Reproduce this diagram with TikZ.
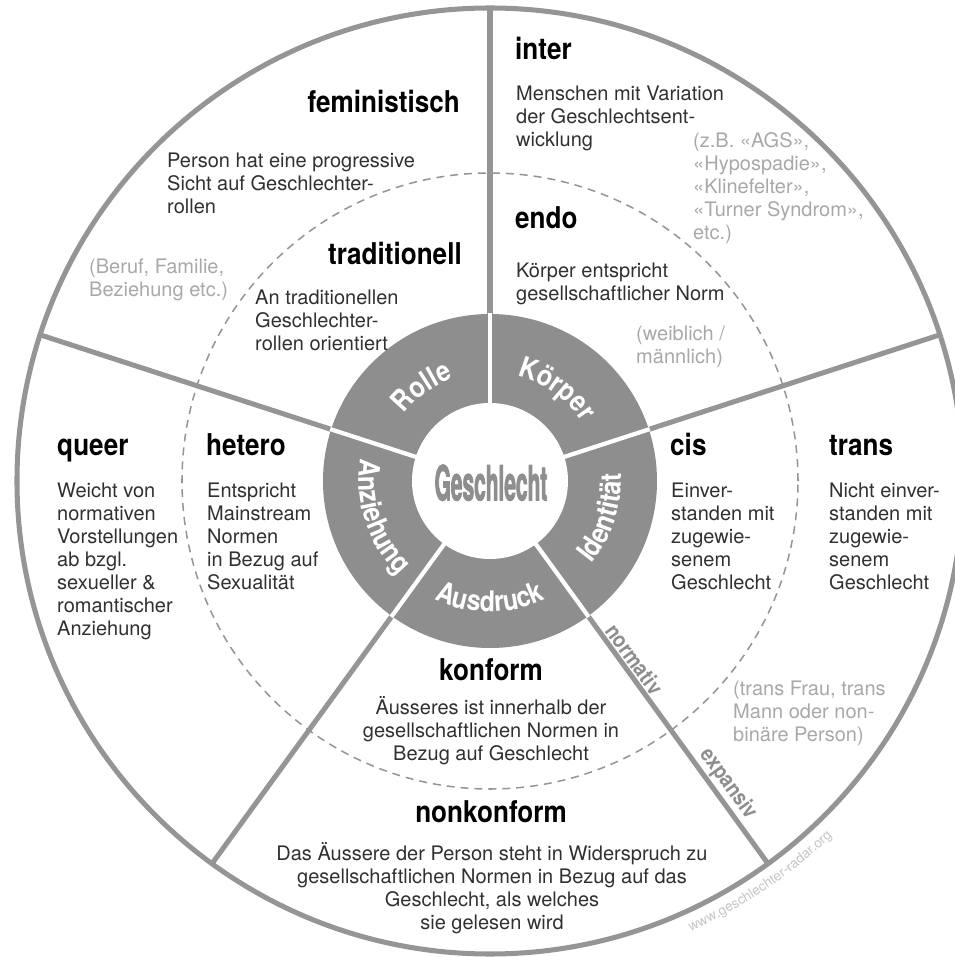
\documentclass[tikz,border=0pt]{standalone}
\usepackage{fontspec}
\setmainfont{TeX Gyre Heros}
\newfontfamily\condfont[FakeStretch=0.87]{TeX Gyre Heros}
\newfontfamily\compfont[FakeStretch=0.43, FakeBold=1.5]{TeX Gyre Heros}
\usetikzlibrary{decorations.text}
\definecolor{ringgray}{HTML}{8E8E8E}
\definecolor{rimgray}{HTML}{959595}
\definecolor{textgray}{HTML}{303030}
\definecolor{notegray}{HTML}{A8A8A8}
\definecolor{urlgray}{HTML}{C4C4C4}
\newcommand\ringlabel{\color{white}\condfont\bfseries\fontsize{24.5}{25}\selectfont}
\newcommand\urlfont{\color{urlgray}\fontsize{11.7}{12}\selectfont}

\begin{document}
\begin{tikzpicture}[x=0.03cm, y=0.03cm, line join=round,
  head/.style={font=\condfont\bfseries\fontsize{25.6}{28}\selectfont, inner sep=0pt},
  body/.style={font=\fontsize{17.07}{19.63}\selectfont, text=textgray, align=left, inner sep=0pt, anchor=north west},
  note/.style={body, text=notegray},
  rim/.style={draw=rimgray, line width=4.3pt},
  gap/.style={draw=white, line width=3.6pt},
  spokeword/.style={font=\condfont\bfseries\fontsize{18.8}{20}\selectfont, text=ringgray, rotate=-54, anchor=south, inner sep=3pt},
  ringtext/.style={decorate, decoration={text along path, text align=center, text={|\ringlabel|#1}}}]
\useasboundingbox (-490,-476) rectangle (464,481);
% wheel
\draw[rimgray, line width=1.3pt, dash pattern=on 6.8pt off 5.1pt] (0,0) circle[radius=308];
\fill[ringgray] (0,0) circle[radius=167];
\fill[white] (0,0) circle[radius=78];
\draw[rim] (0,0) circle[radius=473];
\foreach \a in {90,18,-54,-126,162}{
  \draw[rim] (\a:167) -- (\a:473);
  \draw[gap] (\a:76) -- (\a:168);
}
\node[font=\compfont\bfseries\fontsize{41.5}{42}\selectfont, text=ringgray, anchor=base] (gender) at (1,-19.5) {Geschlecht};
% ring labels
\path[ringtext=Rolle] (166:109) arc[start angle=166, end angle=86, radius=109];
\path[ringtext=Körper] (94:109) arc[start angle=94, end angle=14, radius=109];
\path[ringtext=Identität] (-58:131) arc[start angle=-58, end angle=22, radius=131];
\path[ringtext=Ausdruck] (-130:131) arc[start angle=-130, end angle=-50, radius=131];
\path[ringtext=Anziehung] (158:131) arc[start angle=158, end angle=238, radius=131];
% Rolle
\node[head, anchor=base east] (fem) at (-30,368) {feministisch};
\node[body] (femtxt) at (-323,328.5) {Person hat eine progressive\\Sicht auf Geschlechter-\\rollen};
\node[note] (rolenote) at (-401,222.5) {(Beruf, Familie,\\Beziehung etc.)};
\node[head, anchor=base east] (trad) at (-28,216) {traditionell};
\node[body] (tradtxt) at (-235,191.5) {An traditionellen\\Geschlechter-\\rollen orientiert};
% Koerper
\node[head, anchor=base west] (inter) at (25,421) {inter};
\node[body] (intertxt) at (26,395.5) {Menschen mit Variation\\der Geschlechtsent-\\wicklung};
\node[note] (internote) at (203,348.5) {(z.B. «AGS»,\\«Hypospadie»,\\«Klinefelter»,\\«Turner Syndrom»,\\etc.)};
\node[head, anchor=base west] (endo) at (25,252) {endo};
\node[body] (endotxt) at (26,218.5) {Körper entspricht\\gesellschaftlicher Norm};
\node[note] (endonote) at (146,155.5) {(weiblich /\\männlich)};
% Anziehung
\node[head, anchor=base west] (queer) at (-433,25) {queer};
\node[body] (queertxt) at (-433,-1.5) {Weicht von\\normativen\\Vorstellungen\\ab bzgl.\\sexueller \&\\romantischer\\Anziehung};
\node[head, anchor=base west] (hetero) at (-284,25) {hetero};
\node[body] (heterotxt) at (-283,-1.5) {Entspricht\\Mainstream\\Normen\\in Bezug auf\\Sexualität};
% Identitaet
\node[head, anchor=base west] (cis) at (180,25) {cis};
\node[body] (cistxt) at (181,-1.5) {Einver-\\standen mit\\zugewie-\\senem\\Geschlecht};
\node[head, anchor=base west] (trans) at (339,25) {trans};
\node[body] (transtxt) at (339,-1.5) {Nicht einver-\\standen mit\\zugewie-\\senem\\Geschlecht};
\node[note] (transnote) at (243,-199.5) {(trans Frau, trans\\Mann oder non-\\binäre Person)};
% Ausdruck
\node[head, anchor=base] (konf) at (1,-199) {konform};
\node[body, align=center, anchor=north] (konftxt) at (1,-215) {Äusseres ist innerhalb der\\gesellschaftlichen Normen in\\Bezug auf Geschlecht};
\node[head, anchor=base] (nonkonf) at (1,-341) {nonkonform};
\node[body, align=center, anchor=north] (nonkonftxt) at (2,-361) {Das Äussere der Person steht in Widerspruch zu\\gesellschaftlichen Normen in Bezug auf das\\Geschlecht, als welches\\sie gelesen wird};
\node[spokeword] (norm) at (-54:229) {normativ};
\node[spokeword] (expa) at (-54:385) {expansiv};
\path[decorate, decoration={text along path, text align=center, text={|\urlfont|www.geschlechter-radar.org}}] (-76:493) arc[start angle=-76, end angle=-36, radius=493];
\end{tikzpicture}
\end{document}
